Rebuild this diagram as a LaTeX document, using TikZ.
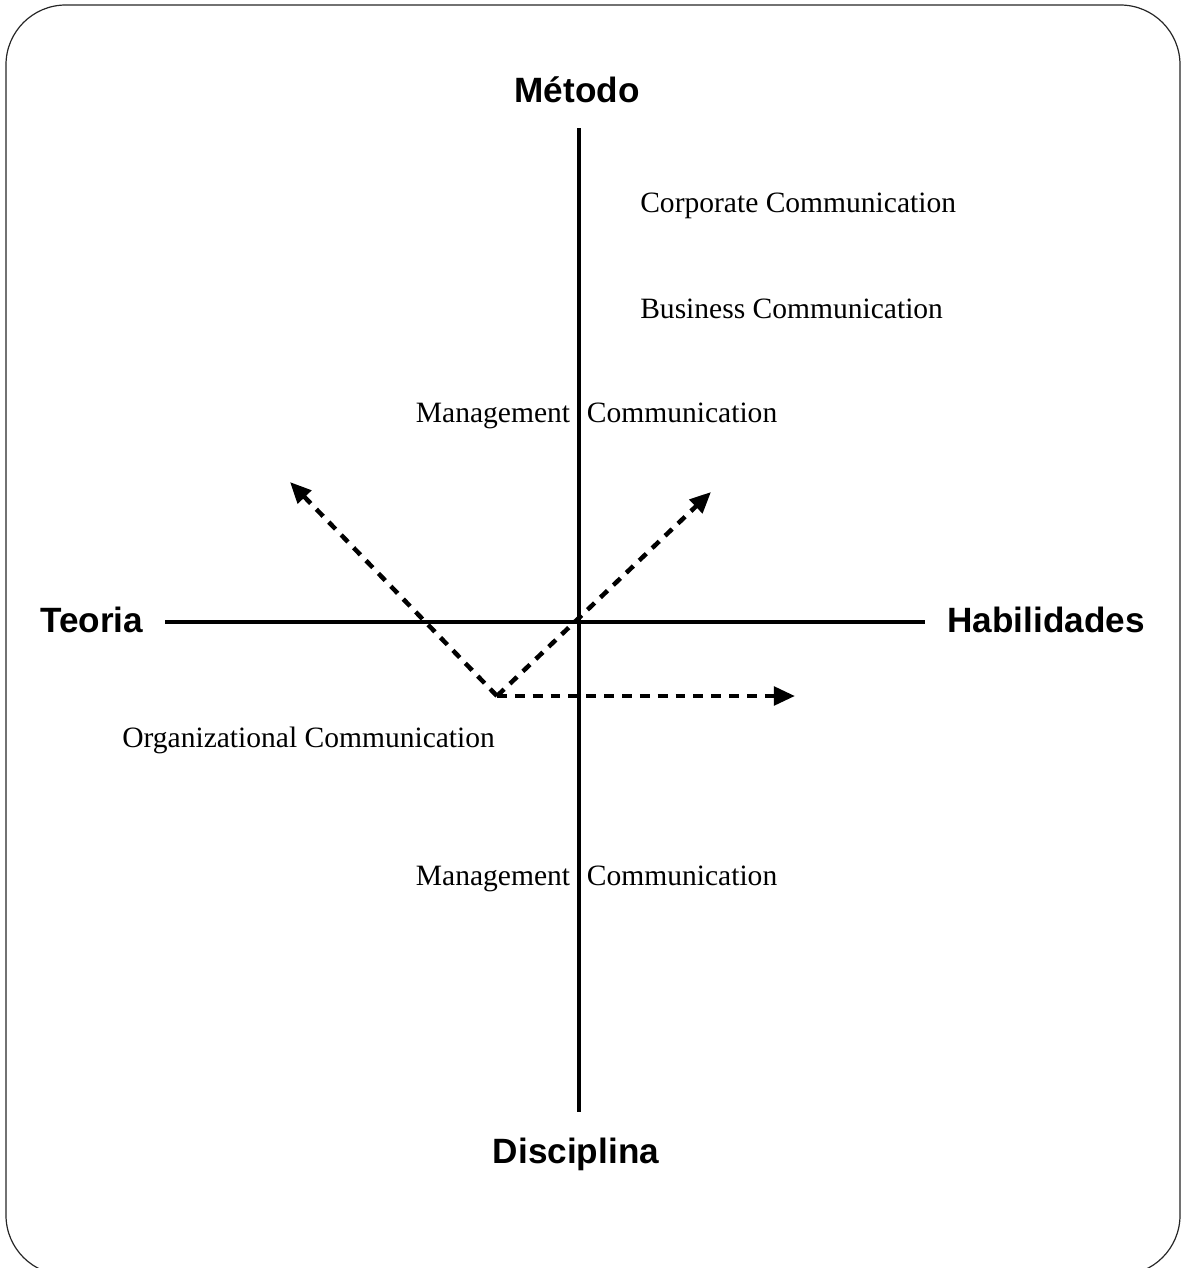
\documentclass[tikz,border=0pt]{standalone}
\usepackage{fontspec}
\setmainfont{Liberation Serif}
\newfontfamily\axisfont{Liberation Sans}
\usetikzlibrary{arrows.meta}
\begin{document}
\begin{tikzpicture}[x=0.025cm,y=-0.025cm,
  axis/.style={line width=3.5pt},
  dasharrow/.style={line width=3.2pt, dash pattern=on 7pt off 5.7pt, -{Triangle[length=15pt,width=13pt]}},
  axislabel/.style={font=\axisfont\bfseries\fontsize{25}{28}\selectfont, inner sep=0pt},
  fieldlabel/.style={font=\fontsize{21}{24}\selectfont, inner sep=0pt, anchor=base west},
  splitlabel/.style={font=\fontsize{21}{24}\selectfont, inner sep=0pt, anchor=base},
  frame/.style={draw=black!85, line width=0.85pt, rounded corners=42.5pt}]
\useasboundingbox (0,0) rectangle (1182,1268);
\draw[frame] (6,5) rectangle (1180,1275);
% axis end points
\coordinate (top) at (579,128);
\coordinate (bottom) at (579,1112);
\coordinate (left) at (165,622);
\coordinate (right) at (925,622);
% labels
\node[axislabel, anchor=base] (metodo) at (577,103) {Método};
\node[axislabel, anchor=base] (disciplina) at (576,1163) {Disciplina};
\node[axislabel, anchor=base west] (teoria) at (40,632) {Teoria};
\node[axislabel, anchor=base west] (habil) at (947,632) {Habilidades};
\node[fieldlabel] (corp) at (640,212) {Corporate Communication};
\node[fieldlabel] (bus) at (640,318) {Business Communication};
\node[splitlabel] (mgmt1) at (578.5,422) {\llap{Management}\hspace{12pt}\rlap{Communication}};
\node[fieldlabel] (org) at (122,747) {Organizational Communication};
\node[splitlabel] (mgmt2) at (578.5,885) {\llap{Management}\hspace{12pt}\rlap{Communication}};
% axes
\draw[axis] (top) -- (bottom);
\draw[axis] (left) -- (right);
% dashed arrows
\coordinate (v) at (497,696);
\coordinate (tipUL) at (290,482);
\coordinate (tipUR) at (711,492);
\coordinate (tipR) at (795,696);
\draw[dasharrow] (v) -- (tipUL);
\draw[dasharrow] (v) -- (tipUR);
\draw[dasharrow] (v) -- (tipR);
\end{tikzpicture}
\end{document}
